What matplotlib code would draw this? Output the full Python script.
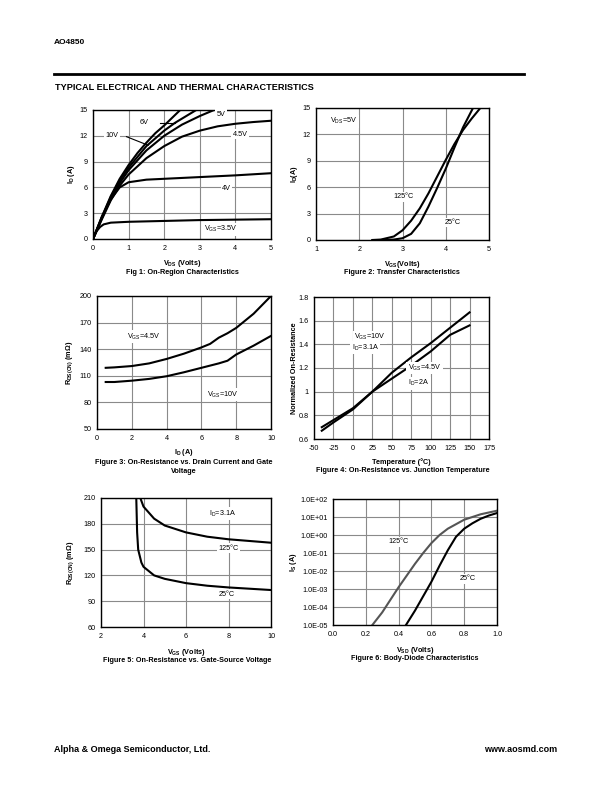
import matplotlib
matplotlib.use('Agg')
from matplotlib import pyplot as plt
import numpy as np

plt.rcParams['font.family'] = ['Liberation Sans', 'DejaVu Sans']
plt.rcParams['mathtext.default'] = 'regular'
plt.rcParams['axes.unicode_minus'] = False
plt.rcParams['font.size'] = 5

W, H = 612, 792

# fig 1: on-region characteristics
f1_vds = {
    '10V': [0, 0.25, 0.5, 0.75, 1, 1.25, 1.5, 1.75, 2, 2.25, 2.45],
    '6V': [0, 0.25, 0.5, 0.75, 1, 1.5, 2, 2.3, 2.5, 2.9],
    '5V': [0, 0.25, 0.5, 0.75, 1, 1.5, 2, 2.5, 3, 3.4],
    '4.5V': [0, 0.25, 0.5, 0.75, 1, 1.5, 2, 2.5, 3, 3.5, 4, 4.5, 5],
    '4V': [0, 0.25, 0.5, 0.75, 1, 1.5, 2, 3, 4, 5],
    '3.5V': [0, 0.1, 0.2, 0.3, 0.5, 1, 2, 3, 4, 5],
}
f1_id = {
    '10V': [0, 2.6, 5.0, 7.0, 8.6, 10.0, 11.2, 12.3, 13.2, 14.2, 15],
    '6V': [0, 2.5, 4.9, 6.8, 8.3, 10.8, 12.6, 13.5, 14.0, 15],
    '5V': [0, 2.4, 4.7, 6.5, 8.0, 10.3, 12.0, 13.3, 14.3, 15],
    '4.5V': [0, 2.3, 4.5, 6.2, 7.5, 9.4, 10.8, 11.9, 12.6, 13.1, 13.4, 13.6, 13.75],
    '4V': [0, 2.6, 4.6, 6.0, 6.6, 6.9, 7.0, 7.2, 7.4, 7.65],
    '3.5V': [0, 0.9, 1.4, 1.7, 1.9, 2.0, 2.1, 2.2, 2.25, 2.3],
}

# fig 2: transfer characteristics
f2_vgs_125 = [2.3, 2.5, 2.8, 3.0, 3.2, 3.4, 3.6, 3.8, 4.0, 4.2, 4.4, 4.6, 4.8]
f2_id_125 = [0, 0.05, 0.4, 1.1, 2.2, 3.6, 5.3, 7.2, 9.1, 10.9, 12.5, 13.8, 15]
f2_vgs_25 = [2.5, 2.8, 3.0, 3.2, 3.4, 3.6, 3.8, 4.0, 4.2, 4.4, 4.63]
f2_id_25 = [0, 0.05, 0.2, 0.7, 1.9, 3.8, 5.9, 8.1, 10.5, 12.8, 15]

# fig 3: rds(on) vs drain current
f3_id_45 = [0.5, 1, 2, 3, 4, 5, 6, 6.5, 7, 7.5, 8, 9, 10]
f3_r_45 = [119, 119.5, 121, 124, 129, 135, 142, 146, 153, 158, 164, 180, 200]
f3_id_10 = [0.5, 1, 2, 3, 4, 5, 6, 7, 7.5, 8, 9, 10]
f3_r_10 = [103, 103, 104.5, 106.5, 109.5, 114, 119, 124, 127, 134, 144, 155]

# fig 4: normalized on-resistance vs temperature
f4_temp = [-40, -25, 0, 25, 50, 75, 100, 125, 150]
f4_n_10 = [0.67, 0.74, 0.85, 1.0, 1.16, 1.29, 1.41, 1.54, 1.67]
f4_n_45 = [0.70, 0.76, 0.86, 1.0, 1.11, 1.22, 1.34, 1.48, 1.56]

# fig 5: rds(on) vs gate-source voltage
f5_vgs_125 = [3.85, 4.0, 4.5, 5, 6, 7, 8, 9, 10]
f5_r_125 = [210, 200, 186, 178, 170, 165, 162, 160, 158]
f5_vgs_25 = [3.66, 3.7, 3.75, 3.9, 4.0, 4.5, 5, 6, 7, 8, 9, 10]
f5_r_25 = [210, 170, 150, 135, 130, 120, 116, 111, 108, 106, 104.5, 103]

# fig 6: body diode
f6_vsd_125 = [0.24, 0.3, 0.35, 0.4, 0.45, 0.5, 0.55, 0.6, 0.65, 0.7, 0.75, 0.8, 0.9, 1.0]
f6_log_125 = [-5, -4.3, -3.6, -2.9, -2.25, -1.6, -1.0, -0.45, 0.0, 0.35, 0.6, 0.85, 1.15, 1.35]
f6_vsd_25 = [0.445, 0.5, 0.55, 0.6, 0.65, 0.7, 0.75, 0.8, 0.85, 0.9, 0.95, 1.0]
f6_log_25 = [-5, -4.2, -3.4, -2.6, -1.7, -0.85, -0.1, 0.35, 0.65, 0.9, 1.08, 1.22]
f6_ticklabels = ['1.0E-05', '1.0E-04', '1.0E-03', '1.0E-02', '1.0E-01', '1.0E+00', '1.0E+01', '1.0E+02']


def box(left, top, right, bottom):
    return [left / W, 1 - bottom / H, (right - left) / W, (bottom - top) / H]


def fx(x):
    return x / W


def fy(y):
    return 1 - y / H


def style(ax):
    ax.grid(True, color='#8a8a8a', lw=0.8)
    ax.set_axisbelow(True)
    for s in ax.spines.values():
        s.set_color('black')
        s.set_linewidth(1.0)
    ax.tick_params(length=0, pad=4, labelsize=5.2)


lab = dict(fontsize=5.2, bbox=dict(facecolor='white', edgecolor='none', pad=1.0))
lw = 1.5
bold = dict(fontsize=5.2, fontweight='bold')

fig = plt.figure(figsize=(W / 100, H / 100), dpi=100)

# header / footer
fig.text(fx(54), fy(42), 'AO4850', fontsize=6, fontweight='bold', va='center')
fig.add_artist(plt.Line2D([fx(54), fx(524)], [fy(74), fy(74)], color='black', lw=2))
fig.text(fx(55), fy(88), 'TYPICAL ELECTRICAL AND THERMAL CHARACTERISTICS', fontsize=6.6,
         fontweight='bold', va='center')
fig.text(fx(54), fy(749), 'Alpha & Omega Semiconductor, Ltd.', fontsize=6.5, fontweight='bold', va='center')
fig.text(fx(557), fy(749), 'www.aosmd.com', fontsize=6.5, fontweight='bold', va='center', ha='right')

# Fig 1
ax = fig.add_axes(box(93, 110, 271, 239))
style(ax)
for k in f1_vds:
    ax.plot(f1_vds[k], f1_id[k], color='black', lw=lw)
ax.set_xlim(0, 5)
ax.set_ylim(0, 15)
ax.set_xticks(range(0, 6))
ax.set_yticks(range(0, 16, 3))
ax.plot([0.94, 1.55], [11.9, 10.9], color='black', lw=0.8)
ax.plot([1.88, 2.3], [13.5, 13.5], color='black', lw=0.8)
ax.text(0.53, 12.0, '10V', ha='center', va='center', **lab)
ax.text(1.44, 13.6, '6V', ha='center', va='center', **lab)
ax.text(3.6, 14.5, '5V', ha='center', va='center', **lab)
ax.text(4.13, 12.2, '4.5V', ha='center', va='center', **lab)
ax.text(3.75, 5.85, '4V', ha='center', va='center', **lab)
ax.text(3.6, 1.15, 'V$_{GS}$=3.5V', ha='center', va='center', **lab)
ax.set_ylabel('I$_D$ (A)', labelpad=2, **bold)
ax.set_xlabel('V$_{DS}$ (Volts)', labelpad=5, **bold)
fig.text(fx(182), fy(272), 'Fig 1: On-Region Characteristics', ha='center', va='center', **bold)

# Fig 2
ax = fig.add_axes(box(316, 108, 489, 240))
style(ax)
ax.plot(f2_vgs_125, f2_id_125, color='black', lw=lw)
ax.plot(f2_vgs_25, f2_id_25, color='black', lw=lw)
ax.set_xlim(1, 5)
ax.set_ylim(0, 15)
ax.set_xticks(range(1, 6))
ax.set_yticks(range(0, 16, 3))
ax.text(1.65, 13.5, 'V$_{DS}$=5V', ha='center', va='center', **lab)
ax.text(3.02, 4.9, '125°C', ha='center', va='center', **lab)
ax.text(4.17, 2.0, '25°C', ha='center', va='center', **lab)
ax.set_ylabel('I$_D$(A)', labelpad=2, **bold)
ax.set_xlabel('V$_{GS}$(Volts)', labelpad=5, **bold)
fig.text(fx(402), fy(273), 'Figure 2: Transfer Characteristics', ha='center', va='center', **bold)

# Fig 3
ax = fig.add_axes(box(97, 296, 271, 429))
style(ax)
ax.plot(f3_id_45, f3_r_45, color='black', lw=lw)
ax.plot(f3_id_10, f3_r_10, color='black', lw=lw)
ax.set_xlim(0, 10)
ax.set_ylim(50, 200)
ax.set_xticks(range(0, 11, 2))
ax.set_yticks(range(50, 201, 30))
ax.text(2.7, 154, 'V$_{GS}$=4.5V', ha='center', va='center', **lab)
ax.text(7.2, 89, 'V$_{GS}$=10V', ha='center', va='center', **lab)
ax.set_ylabel('R$_{DS(ON)}$ (mΩ)', labelpad=3, **bold)
ax.set_xlabel('I$_D$ (A)', labelpad=4, **bold)
fig.text(fx(184), fy(462), 'Figure 3: On-Resistance vs. Drain Current and Gate', ha='center',
         va='center', **bold)
fig.text(fx(184), fy(472), 'Voltage', ha='center', va='center', **bold)

# Fig 4
ax = fig.add_axes(box(314, 297, 489, 439))
style(ax)
ax.plot(f4_temp, f4_n_10, color='black', lw=lw)
ax.plot(f4_temp, f4_n_45, color='black', lw=lw)
ax.set_xlim(-50, 175)
ax.set_ylim(0.6, 1.8)
ax.set_xticks(range(-50, 176, 25))
yt = [0.6, 0.8, 1.0, 1.2, 1.4, 1.6, 1.8]
ax.set_yticks(yt)
ax.set_yticklabels(['0.6', '0.8', '1', '1.2', '1.4', '1.6', '1.8'])
ax.text(22, 1.46, 'V$_{GS}$=10V', ha='center', va='center', **lab)
ax.text(16, 1.37, 'I$_D$=3.1A', ha='center', va='center', **lab)
ax.text(92, 1.2, 'V$_{GS}$=4.5V', ha='center', va='center', **lab)
ax.text(85, 1.07, 'I$_D$=2A', ha='center', va='center', **lab)
ax.set_ylabel('Normalized On-Resistance', labelpad=0, **bold)
ax.set_xlabel('Temperature (°C)', labelpad=5, **bold)
fig.text(fx(403), fy(470), 'Figure 4: On-Resistance vs. Junction Temperature', ha='center',
         va='center', **bold)

# Fig 5
ax = fig.add_axes(box(101, 498, 271, 627))
style(ax)
ax.plot(f5_vgs_125, f5_r_125, color='black', lw=lw)
ax.plot(f5_vgs_25, f5_r_25, color='black', lw=lw)
ax.set_xlim(2, 10)
ax.set_ylim(60, 210)
ax.set_xticks(range(2, 11, 2))
ax.set_yticks(range(60, 211, 30))
ax.text(7.7, 192, 'I$_D$=3.1A', ha='center', va='center', **lab)
ax.text(8.0, 151.5, '125°C', ha='center', va='center', **lab)
ax.text(7.9, 98, '25°C', ha='center', va='center', **lab)
ax.set_ylabel('R$_{DS(ON)}$ (mΩ)', labelpad=5, **bold)
ax.set_xlabel('V$_{GS}$ (Volts)', labelpad=5, **bold)
fig.text(fx(187), fy(660), 'Figure 5: On-Resistance vs. Gate-Source Voltage', ha='center',
         va='center', **bold)

# Fig 6
ax = fig.add_axes(box(333, 499, 497, 625))
style(ax)
ax.plot(f6_vsd_125, np.power(10.0, f6_log_125), color='#555555', lw=lw)
ax.plot(f6_vsd_25, np.power(10.0, f6_log_25), color='black', lw=lw)
ax.set_yscale('log')
ax.set_xlim(0, 1)
ax.set_ylim(1e-5, 1e2)
ax.set_yticks([10.0 ** e for e in range(-5, 3)])
ax.set_yticklabels(f6_ticklabels)
ax.minorticks_off()
ax.set_xticks([0, 0.2, 0.4, 0.6, 0.8, 1.0])
ax.set_xticklabels(['0.0', '0.2', '0.4', '0.6', '0.8', '1.0'])
ax.text(0.4, 10 ** -0.37, '125°C', ha='center', va='center', **lab)
ax.text(0.82, 10 ** -2.44, '25°C', ha='center', va='center', **lab)
ax.set_ylabel('I$_S$ (A)', labelpad=1, **bold)
ax.set_xlabel('V$_{SD}$ (Volts)', labelpad=5, **bold)
fig.text(fx(415), fy(658), 'Figure 6: Body-Diode Characteristics', ha='center', va='center', **bold)

plt.savefig('out.png', dpi=100)
